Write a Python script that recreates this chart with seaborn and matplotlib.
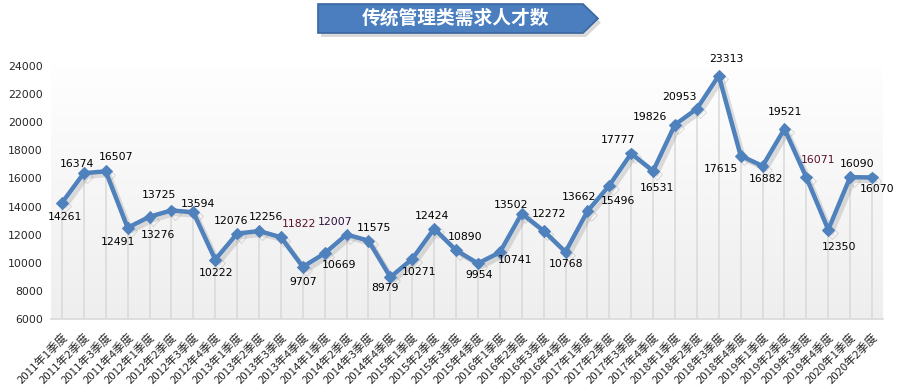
import numpy as np
import pandas as pd
import matplotlib
matplotlib.use("Agg")
import matplotlib.pyplot as plt
import matplotlib.patheffects as pe
import matplotlib.transforms as mtransforms
from matplotlib.patches import Polygon
from matplotlib.colors import LinearSegmentedColormap
import seaborn as sns

title = "传统管理类需求人才数"
years = [2011]*4 + [2012]*4 + [2013]*4 + [2014]*4 + [2015]*4 + [2016]*4 + [2017]*4 + [2018]*4 + [2019]*4 + [2020]*2
quarters = [1, 2, 3, 4]*9 + [1, 2]
categories = [f"{y}年{q}季度" for y, q in zip(years, quarters)]
values = [14261, 16374, 16507, 12491, 13276, 13725, 13594, 10222, 12076, 12256,
          11822, 9707, 10669, 12007, 11575, 8979, 10271, 12424, 10890, 9954,
          10741, 13502, 12272, 10768, 13662, 15496, 17777, 16531, 19826, 20953,
          23313, 17615, 16882, 19521, 16071, 12350, 16090, 16070]
# label offsets in pixels (dx, dy; dy positive = up)
label_dx = [3, -7, 10, -10, 8, -12, 5, 1, -6, 7, 18, 0, 14, -11, 5, -5, 7, -2, 9, 1,
            15, -11, 5, 1, -8, 9, -13, 4, -25, -17, 8, -20, 3, 0, 12, 11, 7, 5]
label_dy = [-14, 9, 14, -14, -18, 15, 8, -13, 13, 14, 13, -15, -12, 13, 13, -11, -13, 13, 13, -12,
            -8, 9, 17, -12, 14, -15, 13, -17, 8, 12, 17, -13, -13, 17, 17, -17, 13, -12]
label_colors = ["#000000"]*38
label_colors[10] = "#5a1028"
label_colors[13] = "#2e1040"
label_colors[34] = "#5a1028"

df = pd.DataFrame({"idx": np.arange(len(values)), "value": values})

sns.set_style("white")
plt.rcParams["font.family"] = ["DejaVu Sans"]

W, H = 898, 390
fig = plt.figure(figsize=(W/100, H/100), dpi=100)
ax = fig.add_axes([51/W, 1-319/H, (883-51)/W, (319-66)/H])

ymin, ymax = 6000, 24000
n = len(values)
# gradient background (white at top, light gray at bottom)
grad = np.linspace(0, 1, 256).reshape(-1, 1)
cmap = LinearSegmentedColormap.from_list("g", ["#ffffff", "#eeeeee"])
ax.imshow(grad, extent=[-0.5, n-0.5, ymin, ymax+800], aspect="auto", cmap=cmap, vmin=0, vmax=1,
          origin="upper", zorder=0)

# drop lines
ax.vlines(df["idx"], ymin, df["value"], color="#d9d9d9", lw=1.1, zorder=1)

sns.lineplot(data=df, x="idx", y="value", ax=ax, color="#4f81bd", lw=3.2, marker="D",
             markersize=6, markeredgecolor="#4f81bd", zorder=3,
             path_effects=[pe.SimpleLineShadow(offset=(2.5, -2.5), shadow_color="#8c8c8c", alpha=0.28),
                           pe.Normal()])

for i, v in enumerate(values):
    ax.annotate(str(v), (i, v), xytext=(label_dx[i], label_dy[i]), textcoords="offset pixels",
                ha="center", va="center", fontsize=7.8, color=label_colors[i], zorder=5)

ax.set_xlim(-0.5, n-0.5)
ax.set_ylim(ymin, ymax)
ax.set_yticks(np.arange(6000, 24001, 2000))
ax.set_yticklabels([str(t) for t in range(6000, 24001, 2000)], fontsize=7.8)
ax.set_xticks(df["idx"])
ax.set_xticklabels(categories, rotation=45, ha="right", va="top", rotation_mode="anchor",
                   fontsize=8.2, family=["Noto Sans CJK SC", "DejaVu Sans"])
shift = mtransforms.ScaledTranslation(6/100, 0, fig.dpi_scale_trans)
for lbl in ax.get_xticklabels():
    lbl.set_transform(lbl.get_transform() + shift)
ax.tick_params(axis="both", length=0)
ax.tick_params(axis="y", pad=6)
ax.tick_params(axis="x", pad=9)
ax.set_xlabel("")
ax.set_ylabel("")
for s in ["top", "right", "left"]:
    ax.spines[s].set_visible(False)
ax.spines["bottom"].set_color("#d9d9d9")
ax.spines["bottom"].set_linewidth(1.2)
ax.spines["bottom"].set_zorder(2)

# title banner
def fp(x, y):
    return (x/W, 1-y/H)
pts = [(318, 4), (583, 4), (598, 18.5), (583, 33), (318, 33)]
shadow = Polygon([fp(x+3, y+4) for x, y in pts], closed=True, transform=fig.transFigure,
                 facecolor="#a0a0a0", edgecolor="none", alpha=0.4, zorder=1)
fig.patches.append(shadow)
banner = Polygon([fp(x, y) for x, y in pts], closed=True, transform=fig.transFigure,
                 facecolor="#4a7ebf", edgecolor="#3a66a0", lw=1.2, zorder=2)
fig.patches.append(banner)
fig.text(455/W, 1-18.5/H, title, ha="center", va="center", color="white", fontsize=13.5,
         fontweight="bold", family=["Noto Sans CJK SC", "DejaVu Sans"], zorder=3)

fig.savefig("out.png", dpi=100)
